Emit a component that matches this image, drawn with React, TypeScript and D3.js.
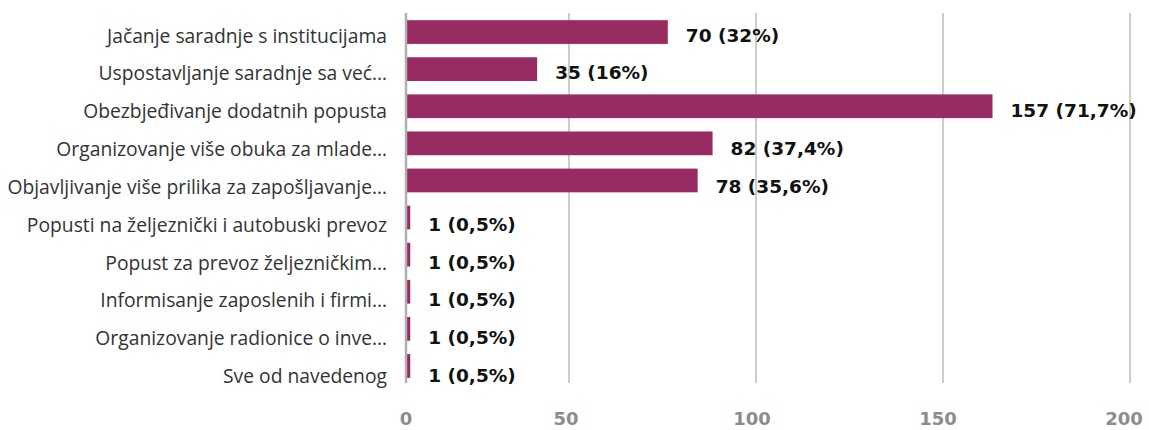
import React from "react";
import * as d3 from "d3";

const categories = [
  "Jačanje saradnje s institucijama",
  "Uspostavljanje saradnje sa već…",
  "Obezbjeđivanje dodatnih popusta",
  "Organizovanje više obuka za mlade…",
  "Objavljivanje više prilika za zapošljavanje…",
  "Popusti na željeznički i autobuski prevoz",
  "Popust za prevoz željezničkim…",
  "Informisanje zaposlenih i firmi…",
  "Organizovanje radionice o inve…",
  "Sve od navedenog",
];
const counts = [70, 35, 157, 82, 78, 1, 1, 1, 1, 1];
const percents = ["32%", "16%", "71,7%", "37,4%", "35,6%", "0,5%", "0,5%", "0,5%", "0,5%", "0,5%"];
const ticks = [0, 50, 100, 150, 200];

const W = 1149;
const H = 430;

export default function App() {
  const xBar = d3.scaleLinear().domain([0, 200]).range([406.5, 1153]);
  const xGrid = d3.scaleLinear().domain([0, 50, 200]).range([406, 569, 1130]);
  const xTickLabel = d3.scaleLinear().domain([0, 50, 200]).range([406, 566, 1124]);
  const yBand = d3
    .scaleBand<string>()
    .domain(categories)
    .range([13.5, 384.5])
    .paddingInner(0.36)
    .paddingOuter(0.18);
  const yText = d3.scalePoint<string>().domain(categories).range([35, 375.5]);

  const barColor = "#992b63";

  return (
    <svg
      width={W}
      height={H}
      style={{ position: "absolute", left: 0, top: 0, background: "#fff" }}
    >
      {ticks.map((t) =>
        t === 0 ? null : (
          <line
            key={"g" + t}
            x1={xGrid(t)}
            x2={xGrid(t)}
            y1={13}
            y2={383}
            stroke="#cccccc"
            strokeWidth={2}
          />
        )
      )}
      {categories.map((c, i) => (
        <rect
          key={"b" + i}
          x={xBar(0)}
          y={yBand(c)}
          width={xBar(counts[i]) - xBar(0)}
          height={yBand.bandwidth()}
          fill={barColor}
        />
      ))}
      <line
        x1={xGrid(0)}
        x2={xGrid(0)}
        y1={13}
        y2={383}
        stroke="#b0b0b0"
        strokeWidth={2.5}
      />
      {categories.map((c, i) => (
        <text
          key={"c" + i}
          x={387}
          y={yText(c)}
          textAnchor="end"
          dominantBaseline="central"
          fontFamily="'Open Sans', sans-serif"
          fontSize={19.3}
          fill="#333333"
        >
          {c}
        </text>
      ))}
      {categories.map((c, i) => (
        <text
          key={"v" + i}
          x={xBar(counts[i]) + 18}
          y={yText(c)}
          dominantBaseline="central"
          fontFamily="'DejaVu Sans', sans-serif"
          fontWeight="bold"
          fontSize={18.5}
          fill="#111111"
        >
          {`${counts[i]} (${percents[i]})`}
        </text>
      ))}
      {ticks.map((t) => (
        <text
          key={"t" + t}
          x={xTickLabel(t)}
          y={418.5}
          textAnchor="middle"
          dominantBaseline="central"
          fontFamily="'DejaVu Sans', sans-serif"
          fontWeight="bold"
          fontSize={18}
          fill="#8c8c8c"
        >
          {t}
        </text>
      ))}
    </svg>
  );
}
